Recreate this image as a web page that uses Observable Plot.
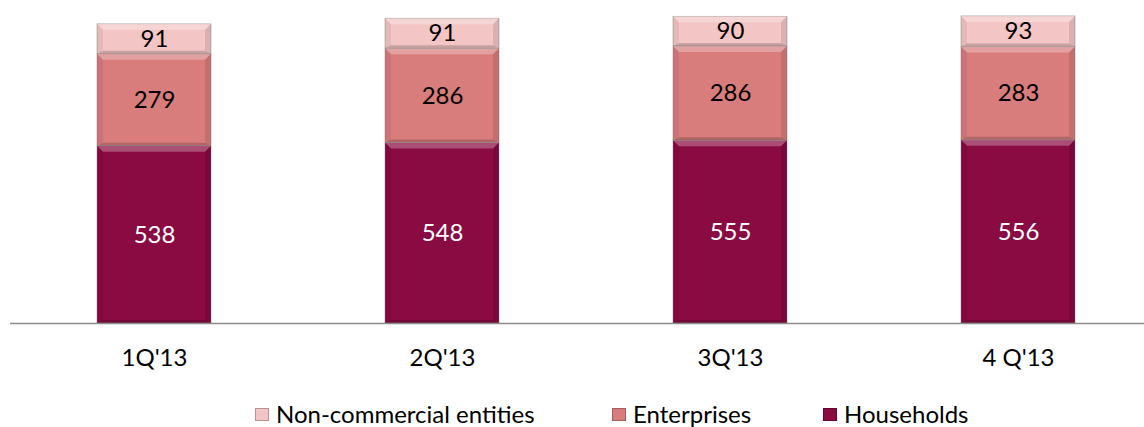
<!DOCTYPE html>
<html>
<head>
<meta charset="utf-8">
<script src="https://cdn.jsdelivr.net/npm/d3@7"></script>
<script src="https://cdn.jsdelivr.net/npm/@observablehq/plot@0.6"></script>
<style>
  html, body { margin: 0; padding: 0; background: #fff; }
  body { width: 1144px; height: 427px; position: relative; overflow: hidden; font-family: Lato, "Open Sans", sans-serif; }
  #legend { position: absolute; left: 0; top: 400px; width: 1144px; height: 28px; }
  .item { position: absolute; top: 0; display: flex; align-items: center; font-size: 24px; color: #000; line-height: 28px; white-space: nowrap; }
  .sw { width: 14px; height: 13px; margin-right: 7px; box-sizing: border-box; border: 1px solid rgba(0,0,0,0.25); }
</style>
</head>
<body>
<div id="chart"></div>
<div id="legend"></div>
<script>
const quarters = ["1Q'13", "2Q'13", "3Q'13", "4 Q'13"];
const households = [538, 548, 555, 556];
const enterprises = [279, 286, 286, 283];
const nonCommercial = [91, 91, 90, 93];
const seriesNames = ["Households", "Enterprises", "Non-commercial entities"];
const seriesColors = ["#8a0a42", "#d97c7c", "#f3c5c5"];
const labelColors = ["#ffffff", "#000000", "#000000"];
const legendOrder = ["Non-commercial entities", "Enterprises", "Households"];
const legendLeft = [255, 612, 823];

const seriesValues = [households, enterprises, nonCommercial];
const data = [];
quarters.forEach((q, i) => {
  seriesNames.forEach((s, j) => {
    data.push({quarter: q, series: s, value: seriesValues[j][i], labelColor: labelColors[j]});
  });
});

const chart = Plot.plot({
  width: 1144,
  height: 390,
  marginTop: 10,
  marginBottom: 67,
  marginLeft: 10,
  marginRight: 0,
  style: {fontFamily: "Lato, 'Open Sans', sans-serif", fontSize: "24px", color: "#000", background: "#fff"},
  x: {domain: quarters, range: [10, 1162], paddingInner: 0.604, paddingOuter: 0.302, label: null},
  y: {domain: [0, 950], axis: null},
  color: {domain: seriesNames, range: seriesColors},
  marks: [
    Plot.barY(data, Plot.stackY({
      x: "quarter", y: "value", z: "series", fill: "series",
      stroke: "#7a7a7a", strokeWidth: 0.6, strokeOpacity: 0.7
    })),
    Plot.ruleY([0], {stroke: "#8c8c8c", strokeWidth: 1.6}),
    Plot.text(data, Plot.stackY({
      x: "quarter", y: "value", z: "series", text: d => String(d.value),
      fill: "labelColor", fontSize: 24
    })),
    Plot.axisX({tickSize: 0, tickPadding: 25, fontSize: 24, fill: "#000"})
  ]
});
document.getElementById("chart").appendChild(chart);

// bevel overlay on each rendered bar segment (geometry taken from Plot's own rects)
const barGroup = chart.querySelector("g[aria-label='bar']");
if (barGroup) {
  const ov = document.createElementNS("http://www.w3.org/2000/svg", "g");
  barGroup.parentNode.insertBefore(ov, barGroup.nextSibling);
  const g = d3.select(ov);
  barGroup.querySelectorAll("rect").forEach(r => {
    const x = +r.getAttribute("x"), y = +r.getAttribute("y");
    const w = +r.getAttribute("width"), h = +r.getAttribute("height");
    const b = Math.min(6, h / 3);
    const poly = (pts, fill, op) => g.append("polygon")
      .attr("points", pts.map(p => p.join(",")).join(" "))
      .attr("fill", fill).attr("fill-opacity", op);
    poly([[x, y], [x + w, y], [x + w - b, y + b], [x + b, y + b]], "#fff", 0.28);
    poly([[x, y], [x + b, y + b], [x + b, y + h - b / 2], [x, y + h]], "#000", 0.06);
    poly([[x + w, y], [x + w - b, y + b], [x + w - b, y + h - b / 2], [x + w, y + h]], "#000", 0.1);
    poly([[x, y + h], [x + b, y + h - b / 2], [x + w - b, y + h - b / 2], [x + w, y + h]], "#000", 0.18);
  });
}

const legend = document.getElementById("legend");
legendOrder.forEach((name, k) => {
  const item = document.createElement("div");
  item.className = "item";
  item.style.left = legendLeft[k] + "px";
  const sw = document.createElement("span");
  sw.className = "sw";
  sw.style.background = seriesColors[seriesNames.indexOf(name)];
  item.appendChild(sw);
  item.appendChild(document.createTextNode(name));
  legend.appendChild(item);
});
</script>
</body>
</html>
